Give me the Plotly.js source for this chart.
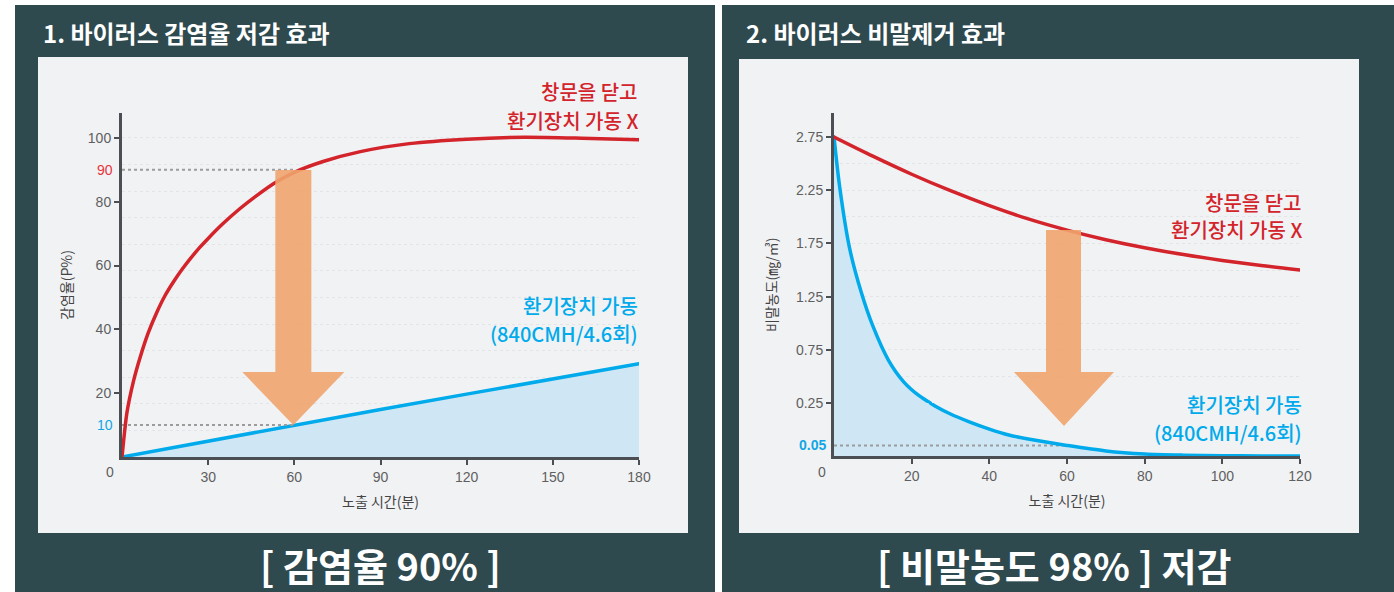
<!DOCTYPE html>
<html><head><meta charset="utf-8">
<script src="https://cdn.plot.ly/plotly-3.0.1.min.js"></script>
<style>html,body{margin:0;padding:0;background:#fff;}#chart{width:1394px;height:592px;}</style>
</head><body><div id="chart"></div>
<script>
// ---------- DATA ----------
// Chart 1: infection rate (%) vs exposure time (min)
const infectClosedX = [0,1.7,4,6.3,9,12.1,15,18,21,24,27,30,35,41,47,53,60,70,83,100,120,140,160,180];
const infectClosed  = [0,13.8,23.8,31.2,38.6,45.3,50.6,55.0,58.9,62.4,65.6,68.5,73.0,77.8,82.0,85.8,89.2,92.6,95.7,98.2,99.6,100.2,99.9,99.4];
const infectVentX = [0,30,60,90,120,150,180];
const infectVent  = [0,5,10,14.9,19.7,24.5,29.2];
const infectTickX = [30,60,90,120,150,180];
const infectTickY = [20,40,60,80,100];
const infectMarks = [90,10];
// Chart 2: droplet concentration (mg/m3) vs exposure time (min)
const dropClosedX = [0,10,20,30,40,50,60,70,80,90,100,110,120];
const dropClosed  = [2.75,2.57,2.40,2.245,2.105,1.98,1.875,1.785,1.71,1.645,1.59,1.542,1.50];
const dropVentX = [0,1.5,4,7,10,14,18,22,24.8,26,30,35,40,45,50,60,70,80,90,100,110,120];
const dropVent  = [2.75,2.27,1.707,1.293,0.974,0.654,0.447,0.316,0.25,0.236,0.198,0.16,0.127,0.099,0.08,0.05,0.024,0.0094,0.004,0.0015,0.0005,0];
const dropTickX = [20,40,60,80,100,120];
const dropTickY = [0.25,0.75,1.25,1.75,2.25,2.75];
const dropMark = 0.05;
const markTime = 60;
// Labels
const closedLabel = ['창문을 닫고', '환기장치 가동 X'];
const ventLabel = ['환기장치 가동', '(840CMH/4.6회)'];

// ---------- STYLE / LAYOUT ----------
const W = 1394, H = 592;
const px = v => v / W, py = v => 1 - v / H;
const KR = "'Noto Sans CJK KR', 'Noto Sans', sans-serif";
const NUM = "'Liberation Sans', Arial, sans-serif";
const RED = '#d3232b', BLUE = '#00aaeb', FILL = '#cfe7f5', ARROW = '#f0a46d';
const DARK = '#2e4a4f', LIGHT = '#f1f2f4', AX = '#4b4e52', GUIDE = '#9c9c9c', GRID = '#e2e4e7';
const tickFont = {family: NUM, size: 14, color: '#5f5f5f'};

// split value axis for chart 2 (upper y2 / lower y3)
const SPLIT = 0.25;
const y2Dom = [py(403), py(113)], y2Rng = [SPLIT, 2.9756];
const y3Dom = [py(456), py(403)], y3Rng = [0, SPLIT];
const upIdx = dropVent.map((v, i) => i).filter(i => dropVent[i] >= SPLIT);
const loIdx = dropVent.map((v, i) => i).filter(i => dropVent[i] <= SPLIT);
const pick = (arr, idx) => idx.map(i => arr[i]);
const y2ToPaper = v => y2Dom[0] + (v - y2Rng[0]) / (y2Rng[1] - y2Rng[0]) * (y2Dom[1] - y2Dom[0]);
const redAtMark = dropClosed[dropClosedX.indexOf(markTime)];

const traces = [
  {x: infectVentX, y: infectVent, xaxis: 'x', yaxis: 'y', mode: 'lines', fill: 'tozeroy', fillcolor: FILL,
   line: {color: BLUE, width: 3.5}},
  {x: [0, markTime], y: [infectMarks[0], infectMarks[0]], xaxis: 'x', yaxis: 'y', mode: 'lines',
   line: {color: GUIDE, width: 2, dash: 'dot'}},
  {x: [0, markTime], y: [infectMarks[1], infectMarks[1]], xaxis: 'x', yaxis: 'y', mode: 'lines',
   line: {color: GUIDE, width: 2, dash: 'dot'}},
  {x: infectClosedX, y: infectClosed, xaxis: 'x', yaxis: 'y', mode: 'lines',
   line: {color: RED, width: 3.5, shape: 'spline', smoothing: 0.7}},
  // chart 2
  {x: dropVentX, y: dropVent, xaxis: 'x2', yaxis: 'y3', mode: 'lines', fill: 'tozeroy', fillcolor: FILL,
   line: {width: 0, shape: 'spline', smoothing: 0.8}},
  {x: pick(dropVentX, upIdx), y: pick(dropVent, upIdx), xaxis: 'x2', yaxis: 'y2', mode: 'lines', fill: 'tozeroy', fillcolor: FILL,
   line: {color: BLUE, width: 3.5, shape: 'spline', smoothing: 0.8}},
  {x: [0, markTime], y: [dropMark, dropMark], xaxis: 'x2', yaxis: 'y3', mode: 'lines',
   line: {color: GUIDE, width: 2, dash: 'dot'}},
  {x: pick(dropVentX, loIdx), y: pick(dropVent, loIdx), xaxis: 'x2', yaxis: 'y3', mode: 'lines',
   line: {color: BLUE, width: 3.5, shape: 'spline', smoothing: 0.8}},
  {x: dropClosedX, y: dropClosed, xaxis: 'x2', yaxis: 'y2', mode: 'lines',
   line: {color: RED, width: 3.5, shape: 'spline', smoothing: 0.8}}
];

const axLine = {showline: true, linecolor: AX, linewidth: 3, ticks: 'outside', ticklen: 5, tickwidth: 2,
  tickcolor: AX, tickfont: tickFont, zeroline: false, fixedrange: true};
const xTitle = {text: '노출 시간(분)', font: {family: KR, size: 14, color: '#444'}, standoff: 14};

function label(text, xPix, yPix, color) {
  return {text: text, xref: 'paper', yref: 'paper', x: px(xPix), y: py(yPix), xanchor: 'right', yanchor: 'middle',
    align: 'right', showarrow: false, borderpad: 0, font: {family: KR, size: 20, color: color, weight: 500}};
}

const layout = {
  width: W, height: H, margin: {l: 0, r: 0, t: 0, b: 0},
  paper_bgcolor: '#ffffff', plot_bgcolor: LIGHT, showlegend: false, hovermode: false,
  xaxis: Object.assign({}, axLine, {domain: [px(122), px(639)], range: [0, 180], anchor: 'y',
    tickvals: infectTickX, showgrid: false, title: xTitle}),
  yaxis: Object.assign({}, axLine, {domain: [py(457), py(113)], range: [0, 107.8], anchor: 'x',
    tickvals: infectTickY, showgrid: false,
    minor: {tick0: 0, dtick: 100/12, showgrid: true, gridcolor: GRID, griddash: 'dot', gridwidth: 1, ticks: ''},
    title: {text: '감염율(P%)', font: {family: KR, size: 14, color: '#444'}, standoff: 12}}),
  xaxis2: Object.assign({}, axLine, {domain: [px(834), px(1300)], range: [0, 120], anchor: 'y3',
    tickvals: dropTickX, showgrid: false, title: xTitle}),
  yaxis2: Object.assign({}, axLine, {domain: y2Dom, range: y2Rng, anchor: 'x2',
    tickvals: dropTickY, showgrid: true, gridcolor: GRID, griddash: 'dot',
    minor: {dtick: 0.25, tick0: 0, showgrid: true, gridcolor: GRID, griddash: 'dot', ticks: ''}}),
  yaxis3: Object.assign({}, axLine, {domain: y3Dom, range: y3Rng, anchor: 'x2',
    tickvals: [], ticks: '', showgrid: false}),
  shapes: [
    {type: 'rect', xref: 'paper', yref: 'paper', x0: px(15), x1: px(715), y0: py(592), y1: py(5), fillcolor: DARK, line: {width: 0}, layer: 'below'},
    {type: 'rect', xref: 'paper', yref: 'paper', x0: px(722), x1: 1, y0: py(592), y1: py(5), fillcolor: DARK, line: {width: 0}, layer: 'below'},
    {type: 'rect', xref: 'paper', yref: 'paper', x0: px(38), x1: px(688), y0: py(533), y1: py(57), fillcolor: LIGHT, line: {width: 0}, layer: 'below'},
    {type: 'rect', xref: 'paper', yref: 'paper', x0: px(739), x1: px(1359), y0: py(533), y1: py(59), fillcolor: LIGHT, line: {width: 0}, layer: 'below'},
    // arrows (pixel-sized, anchored at data positions)
    {type: 'path', xref: 'x', yref: 'y', xsizemode: 'pixel', ysizemode: 'pixel', xanchor: markTime, yanchor: infectMarks[1],
     path: 'M-1,0 L50,53 L17,53 L17,255 L-19,255 L-19,53 L-52,53 Z', fillcolor: ARROW, opacity: 0.9, line: {width: 0}, layer: 'above'},
    {type: 'path', xref: 'x2', yref: 'paper', xsizemode: 'pixel', ysizemode: 'pixel', xanchor: markTime, yanchor: y2ToPaper(redAtMark),
     path: 'M-21,0 L14,0 L14,-142 L47,-142 L-3,-196 L-53,-142 L-21,-142 Z', fillcolor: ARROW, opacity: 0.9, line: {width: 0}, layer: 'above'}
  ],
  annotations: [
    {text: '<b>1. 바이러스 감염율 저감 효과</b>', xref: 'paper', yref: 'paper', x: px(41), y: py(33), xanchor: 'left', yanchor: 'middle', showarrow: false, font: {family: KR, size: 24, color: '#ffffff'}},
    {text: '<b>2. 바이러스 비말제거 효과</b>', xref: 'paper', yref: 'paper', x: px(744), y: py(33), xanchor: 'left', yanchor: 'middle', showarrow: false, font: {family: KR, size: 24, color: '#ffffff'}},
    {text: '<b>[ 감염율 90% ]</b>', xref: 'paper', yref: 'paper', x: px(380), y: py(564), xanchor: 'center', yanchor: 'middle', showarrow: false, font: {family: KR, size: 38, color: '#ffffff'}},
    {text: '<b>[ 비말농도 98% ] 저감</b>', xref: 'paper', yref: 'paper', x: px(1054), y: py(564), xanchor: 'center', yanchor: 'middle', showarrow: false, font: {family: KR, size: 38, color: '#ffffff'}},
    // series labels
    label(closedLabel[0], 639, 92, RED), label(closedLabel[1], 639, 120, RED),
    label(ventLabel[0], 639, 305, BLUE), label(ventLabel[1], 639, 333, BLUE),
    label(closedLabel[0], 1303, 202, RED), label(closedLabel[1], 1303, 230, RED),
    label(ventLabel[0], 1303, 404, BLUE), label(ventLabel[1], 1303, 432, BLUE),
    // highlighted y labels
    {text: String(infectMarks[0]), xref: 'paper', yref: 'y', x: px(122), y: infectMarks[0], xanchor: 'right', yanchor: 'middle', xshift: -7, showarrow: false, font: {family: NUM, size: 14, color: '#e8343d'}},
    {text: String(infectMarks[1]), xref: 'paper', yref: 'y', x: px(122), y: infectMarks[1], xanchor: 'right', yanchor: 'middle', xshift: -7, showarrow: false, font: {family: NUM, size: 14, color: '#12a6e4'}},
    {text: '<b>' + dropMark.toFixed(2) + '</b>', xref: 'paper', yref: 'y3', x: px(834), y: dropMark, xanchor: 'right', yanchor: 'middle', xshift: -6, showarrow: false, font: {family: NUM, size: 14, color: '#12a6e4'}},
    // origin labels
    {text: '0', xref: 'paper', yref: 'paper', x: px(110), y: py(472), xanchor: 'center', yanchor: 'middle', showarrow: false, font: tickFont},
    {text: '0', xref: 'paper', yref: 'paper', x: px(822), y: py(472), xanchor: 'center', yanchor: 'middle', showarrow: false, font: tickFont},
    // right y title (split axis)
    {text: '비말농도(㎎/㎥)', xref: 'paper', yref: 'paper', x: px(771), y: py(285), textangle: -90, xanchor: 'center', yanchor: 'middle', showarrow: false, font: {family: KR, size: 14, color: '#444'}}
  ]
};

Plotly.newPlot('chart', traces, layout, {staticPlot: true, displayModeBar: false}).then(function (gd) {
  // round the ends of solid curves so the two halves of the split curve join seamlessly
  gd.querySelectorAll('.scatterlayer .js-line').forEach(function (p) {
    const dash = p.style.strokeDasharray;
    if (!dash || dash === 'none') {
      p.style.strokeLinecap = 'round';
      p.style.strokeLinejoin = 'round';
    }
  });
});
</script></body></html>
